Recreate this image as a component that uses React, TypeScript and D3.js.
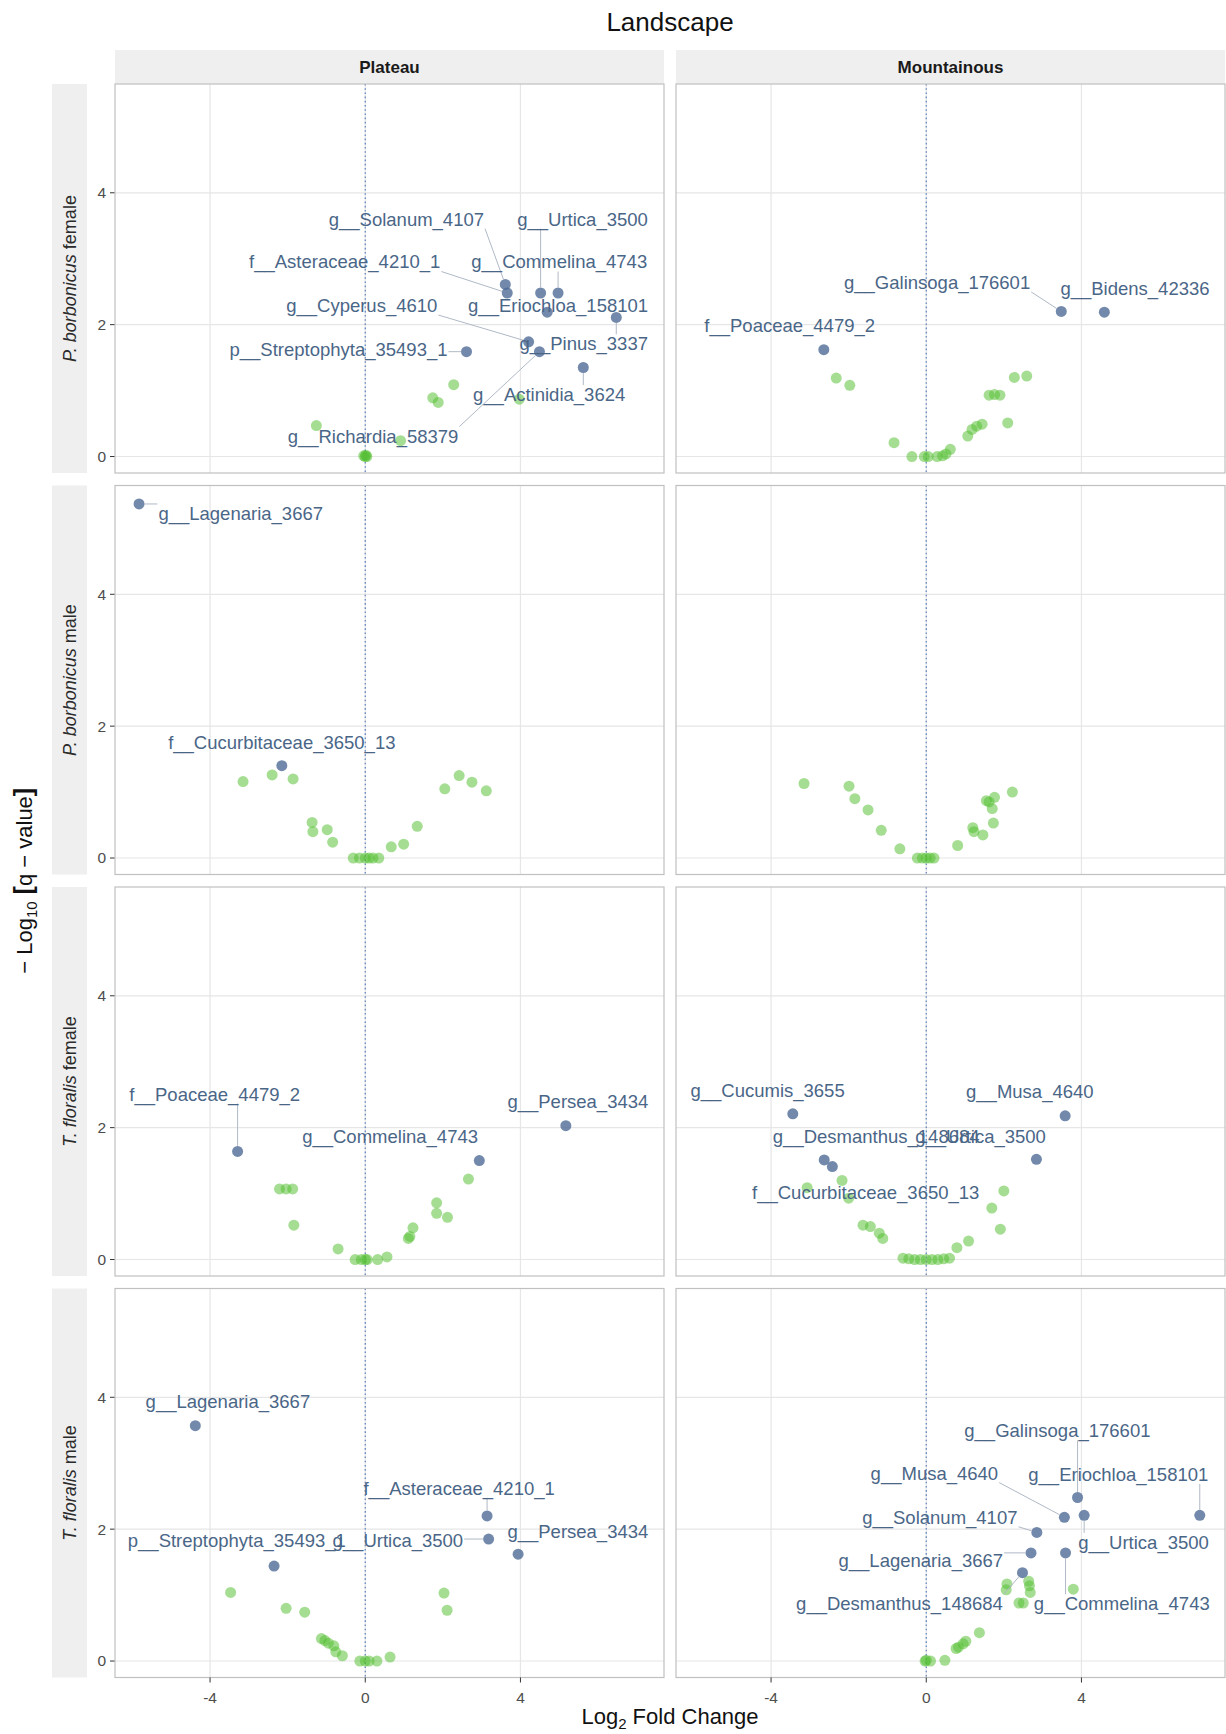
import React, { useMemo } from 'react';
import * as d3 from 'd3';

type Taxon = [string, number, number];
type Dot = [number, number];

const landscapes = ['Plateau', 'Mountainous'];
const hostSpecies = ['P. borbonicus', 'P. borbonicus', 'T. floralis', 'T. floralis'];
const hostSex = ['female', 'male', 'female', 'male'];
const xTicks = [-4, 0, 4];
const yTicks = [0, 2, 4];

// P. borbonicus female / Plateau
const pbFemalePlateauSig: Taxon[] = [
  ['g__Solanum_4107', 3.61, 2.61],
  ['f__Asteraceae_4210_1', 3.66, 2.48],
  ['g__Urtica_3500', 4.52, 2.48],
  ['g__Commelina_4743', 4.97, 2.48],
  ['g__Eriochloa_158101', 4.69, 2.19],
  ['g__Pinus_3337', 6.47, 2.11],
  ['g__Cyperus_4610', 4.21, 1.74],
  ['g__Richardia_58379', 4.49, 1.59],
  ['p__Streptophyta_35493_1', 2.61, 1.59],
  ['g__Actinidia_3624', 5.62, 1.35],
];
const pbFemalePlateauNs: Dot[] = [
  [0, 0], [0.04, 0], [-0.04, 0.01], [0.02, 0.02], [0.91, 0.24], [1.74, 0.89],
  [1.88, 0.82], [2.28, 1.09], [3.97, 0.87], [-1.26, 0.47],
];
// where the repelled labels ended up (data units)
const pbFemalePlateauLab: Taxon[] = [
  ['g__Solanum_4107', 1.06, 3.6],
  ['g__Urtica_3500', 5.6, 3.6],
  ['f__Asteraceae_4210_1', -0.53, 2.95],
  ['g__Commelina_4743', 5.0, 2.95],
  ['g__Cyperus_4610', -0.09, 2.29],
  ['g__Eriochloa_158101', 4.97, 2.29],
  ['p__Streptophyta_35493_1', -0.69, 1.62],
  ['g__Pinus_3337', 5.63, 1.71],
  ['g__Actinidia_3624', 4.74, 0.94],
  ['g__Richardia_58379', 0.2, 0.31],
];

// P. borbonicus female / Mountainous
const pbFemaleMountSig: Taxon[] = [
  ['g__Galinsoga_176601', 3.48, 2.2],
  ['g__Bidens_42336', 4.59, 2.19],
  ['f__Poaceae_4479_2', -2.64, 1.62],
];
const pbFemaleMountNs: Dot[] = [
  [-2.32, 1.19], [-1.97, 1.08], [-0.83, 0.21], [-0.37, 0], [-0.05, 0], [0.05, 0],
  [0.28, 0], [0.42, 0.01], [0.51, 0.04], [0.62, 0.11], [1.07, 0.31], [1.18, 0.41],
  [1.3, 0.46], [1.44, 0.49], [1.62, 0.93], [1.76, 0.94], [1.9, 0.93], [2.1, 0.51],
  [2.27, 1.2], [2.59, 1.22],
];
const pbFemaleMountLab: Taxon[] = [
  ['g__Galinsoga_176601', 0.28, 2.64],
  ['g__Bidens_42336', 5.38, 2.55],
  ['f__Poaceae_4479_2', -3.52, 1.98],
];

// P. borbonicus male / Plateau
const pbMalePlateauSig: Taxon[] = [
  ['g__Lagenaria_3667', -5.83, 5.37],
  ['f__Cucurbitaceae_3650_13', -2.15, 1.4],
];
const pbMalePlateauNs: Dot[] = [
  [-3.15, 1.16], [-2.4, 1.26], [-1.86, 1.2], [-1.37, 0.54], [-1.35, 0.4], [-0.98, 0.43],
  [-0.84, 0.24], [-0.31, 0], [-0.15, 0], [0, 0], [0.1, 0], [0.2, 0], [0.35, 0],
  [0.67, 0.17], [0.99, 0.21], [1.34, 0.48], [2.05, 1.05], [2.42, 1.25], [2.75, 1.15],
  [3.12, 1.02],
];
const pbMalePlateauLab: Taxon[] = [
  ['g__Lagenaria_3667', -3.21, 5.23],
  ['f__Cucurbitaceae_3650_13', -2.15, 1.75],
];

// P. borbonicus male / Mountainous
const pbMaleMountSig: Taxon[] = [];
const pbMaleMountNs: Dot[] = [
  [-3.15, 1.13], [-1.99, 1.09], [-1.84, 0.9], [-1.5, 0.73], [-1.16, 0.42], [-0.68, 0.14],
  [-0.23, 0], [-0.1, 0], [0, 0], [0.1, 0], [0.2, 0], [0.81, 0.19], [1.2, 0.46],
  [1.23, 0.4], [1.46, 0.35], [1.55, 0.87], [1.62, 0.85], [1.76, 0.92], [1.7, 0.75],
  [1.73, 0.53], [2.22, 1.0],
];
const pbMaleMountLab: Taxon[] = [];

// T. floralis female / Plateau
const tfFemalePlateauSig: Taxon[] = [
  ['f__Poaceae_4479_2', -3.29, 1.64],
  ['g__Commelina_4743', 2.94, 1.5],
  ['g__Persea_3434', 5.17, 2.03],
];
const tfFemalePlateauNs: Dot[] = [
  [-2.21, 1.07], [-2.04, 1.07], [-1.87, 1.07], [-1.84, 0.52], [-0.7, 0.16], [-0.26, 0],
  [-0.1, 0], [0, 0], [0.05, 0], [0.32, 0], [0.56, 0.04], [1.11, 0.32], [1.15, 0.35],
  [1.23, 0.48], [1.84, 0.86], [1.84, 0.7], [2.12, 0.64], [2.66, 1.22],
];
const tfFemalePlateauLab: Taxon[] = [
  ['f__Poaceae_4479_2', -3.88, 2.51],
  ['g__Commelina_4743', 0.64, 1.86],
  ['g__Persea_3434', 5.48, 2.39],
];

// T. floralis female / Mountainous
const tfFemaleMountSig: Taxon[] = [
  ['g__Cucumis_3655', -3.44, 2.21],
  ['g__Musa_4640', 3.58, 2.18],
  ['g__Desmanthus_148684', -2.63, 1.51],
  ['f__Cucurbitaceae_3650_13', -2.42, 1.41],
  ['g__Urtica_3500', 2.84, 1.52],
];
const tfFemaleMountNs: Dot[] = [
  [-3.07, 1.09], [-2.17, 1.2], [-2.0, 0.93], [-1.63, 0.52], [-1.44, 0.5], [-1.21, 0.4],
  [-1.12, 0.32], [-0.6, 0.02], [-0.45, 0.01], [-0.3, 0], [-0.15, 0], [0, 0], [0.15, 0],
  [0.3, 0], [0.45, 0.01], [0.6, 0.02], [0.79, 0.18], [1.09, 0.28], [1.69, 0.78],
  [1.91, 0.46], [2.0, 1.04],
];
const tfFemaleMountLab: Taxon[] = [
  ['g__Cucumis_3655', -4.09, 2.56],
  ['g__Musa_4640', 2.67, 2.55],
  ['g__Desmanthus_148684', -1.29, 1.86],
  ['g__Urtica_3500', 1.4, 1.86],
  ['f__Cucurbitaceae_3650_13', -1.56, 1.02],
];

// T. floralis male / Plateau
const tfMalePlateauSig: Taxon[] = [
  ['g__Lagenaria_3667', -4.38, 3.57],
  ['p__Streptophyta_35493_1', -2.35, 1.44],
  ['f__Asteraceae_4210_1', 3.14, 2.2],
  ['g__Urtica_3500', 3.18, 1.85],
  ['g__Persea_3434', 3.94, 1.62],
];
const tfMalePlateauNs: Dot[] = [
  [-3.47, 1.04], [-2.04, 0.8], [-1.56, 0.74], [-1.13, 0.34], [-1.04, 0.31], [-0.95, 0.27],
  [-0.81, 0.23], [-0.76, 0.14], [-0.59, 0.08], [-0.14, 0], [0, 0], [0.1, 0], [0.3, 0],
  [0.64, 0.06], [2.03, 1.03], [2.11, 0.77],
];
const tfMalePlateauLab: Taxon[] = [
  ['g__Lagenaria_3667', -3.54, 3.93],
  ['f__Asteraceae_4210_1', 2.42, 2.62],
  ['p__Streptophyta_35493_1', -3.31, 1.83],
  ['g__Urtica_3500', 0.84, 1.83],
  ['g__Persea_3434', 5.48, 1.96],
];

// T. floralis male / Mountainous
const tfMaleMountSig: Taxon[] = [
  ['g__Galinsoga_176601', 3.9, 2.48],
  ['g__Musa_4640', 3.56, 2.18],
  ['g__Urtica_3500', 4.07, 2.21],
  ['g__Eriochloa_158101', 7.05, 2.21],
  ['g__Solanum_4107', 2.85, 1.95],
  ['g__Lagenaria_3667', 2.7, 1.64],
  ['g__Commelina_4743', 3.59, 1.64],
  ['g__Desmanthus_148684', 2.48, 1.34],
];
const tfMaleMountNs: Dot[] = [
  [2.08, 1.17], [2.06, 1.08], [2.64, 1.21], [2.66, 1.14], [2.68, 1.04], [2.39, 0.88],
  [2.5, 0.88], [3.79, 1.09], [1.37, 0.43], [1.02, 0.3], [0.95, 0.26], [0.83, 0.21],
  [0.77, 0.19], [0.48, 0.01], [0, 0.01], [0.11, 0], [-0.03, 0],
];
const tfMaleMountLab: Taxon[] = [
  ['g__Galinsoga_176601', 3.38, 3.49],
  ['g__Musa_4640', 0.21, 2.85],
  ['g__Eriochloa_158101', 4.95, 2.83],
  ['g__Solanum_4107', 0.35, 2.18],
  ['g__Urtica_3500', 5.6, 1.8],
  ['g__Lagenaria_3667', -0.14, 1.53],
  ['g__Desmanthus_148684', -0.69, 0.87],
  ['g__Commelina_4743', 5.04, 0.87],
];

const panels = [
  [
    { sig: pbFemalePlateauSig, ns: pbFemalePlateauNs, lab: pbFemalePlateauLab },
    { sig: pbFemaleMountSig, ns: pbFemaleMountNs, lab: pbFemaleMountLab },
  ],
  [
    { sig: pbMalePlateauSig, ns: pbMalePlateauNs, lab: pbMalePlateauLab },
    { sig: pbMaleMountSig, ns: pbMaleMountNs, lab: pbMaleMountLab },
  ],
  [
    { sig: tfFemalePlateauSig, ns: tfFemalePlateauNs, lab: tfFemalePlateauLab },
    { sig: tfFemaleMountSig, ns: tfFemaleMountNs, lab: tfFemaleMountLab },
  ],
  [
    { sig: tfMalePlateauSig, ns: tfMalePlateauNs, lab: tfMalePlateauLab },
    { sig: tfMaleMountSig, ns: tfMaleMountNs, lab: tfMaleMountLab },
  ],
];

const FONT = '"Liberation Sans", Arial, Helvetica, sans-serif';
const sigColor = '#4a6893';
const nsColor = '#52bd30';
const labelColor = '#4a6687';

// nearest point of the label box to the dot, like ggrepel does
function connector(cx: number, cy: number, hw: number, hh: number, px: number, py: number, r: number) {
  const nx = Math.max(cx - hw, Math.min(px, cx + hw));
  const ny = Math.max(cy - hh, Math.min(py, cy + hh));
  const dx = px - nx;
  const dy = py - ny;
  const d = Math.hypot(dx, dy);
  if (d - r < 11) return null;
  return [nx, ny, px - (dx / d) * r, py - (dy / d) * r];
}

export default function App() {
  const W = 1226;
  const H = 1734;
  const colLeft = [115, 676];
  const panelW = 549;
  const panelH = 389;
  const rowTop = [0, 1, 2, 3].map((r) => 84 + r * 401.5);
  const labelSize = 18.5;
  const r = 5.5;

  const x = d3.scaleLinear().domain([-6.45, 7.7]).range([0, panelW]);
  const y = d3.scaleLinear().domain([-0.25, 5.65]).range([panelH, 0]);

  const measure = useMemo(() => {
    const ctx = document.createElement('canvas').getContext('2d');
    if (ctx) ctx.font = `${labelSize}px ${FONT}`;
    return (s: string) => (ctx ? ctx.measureText(s).width : s.length * labelSize * 0.55);
  }, []);

  const bottom = rowTop[3] + panelH;
  const plotMid = (colLeft[0] + colLeft[1] + panelW) / 2;

  return (
    <svg width={W} height={H} style={{ position: 'absolute', left: 0, top: 0, background: '#fff' }} fontFamily={FONT}>
      <rect width={W} height={H} fill="#fff" />
      <text x={plotMid} y={31} textAnchor="middle" fontSize={26} fill="#111">Landscape</text>

      {landscapes.map((name, c) => (
        <g key={name}>
          <rect x={colLeft[c]} y={50} width={panelW} height={34} fill="#efefef" />
          <text x={colLeft[c] + panelW / 2} y={67} dy="0.35em" textAnchor="middle" fontSize={17} fontWeight="bold" fill="#1a1a1a">
            {name}
          </text>
        </g>
      ))}

      {panels.map((row, ri) => (
        <g key={ri}>
          <rect x={52} y={rowTop[ri]} width={35} height={panelH} fill="#efefef" />
          <text
            transform={`translate(${69.5},${rowTop[ri] + panelH / 2}) rotate(-90)`}
            dy="0.35em"
            textAnchor="middle"
            fontSize={18}
            fill="#2b2b2b"
          >
            <tspan fontStyle="italic">{hostSpecies[ri]}</tspan>
            <tspan>{'\u00a0' + hostSex[ri]}</tspan>
          </text>
          {yTicks.map((t) => (
            <g key={t}>
              <line x1={colLeft[0] - 5} x2={colLeft[0]} y1={rowTop[ri] + y(t)} y2={rowTop[ri] + y(t)} stroke="#333" strokeWidth={1} />
              <text x={colLeft[0] - 9} y={rowTop[ri] + y(t)} dy="0.35em" textAnchor="end" fontSize={15.5} fill="#4d4d4d">
                {t}
              </text>
            </g>
          ))}

          {row.map((p, ci) => (
            <g key={ci} transform={`translate(${colLeft[ci]},${rowTop[ri]})`}>
              <rect width={panelW} height={panelH} fill="#fff" />
              {yTicks.map((t) => (
                <line key={'gy' + t} x1={0} x2={panelW} y1={y(t)} y2={y(t)} stroke="#e6e6e6" strokeWidth={1.2} />
              ))}
              {xTicks.map((t) => (
                <line key={'gx' + t} x1={x(t)} x2={x(t)} y1={0} y2={panelH} stroke="#e6e6e6" strokeWidth={1.2} />
              ))}
              <line x1={x(0)} x2={x(0)} y1={0} y2={panelH} stroke="#5b80bd" strokeWidth={1.2} strokeDasharray="1.6 2.6" />

              {p.ns.map((d, i) => (
                <circle key={'n' + i} cx={x(d[0])} cy={y(d[1])} r={r} fill={nsColor} fillOpacity={0.52} />
              ))}
              {p.sig.map((d) => (
                <circle key={'s' + d[0]} cx={x(d[1])} cy={y(d[2])} r={r} fill={sigColor} fillOpacity={0.78} />
              ))}

              {p.lab.map((l) => {
                const pt = p.sig.find((s) => s[0] === l[0]);
                const cx = x(l[1]);
                const cy = y(l[2]);
                const hw = measure(l[0]) / 2 + 1;
                const seg = pt ? connector(cx, cy, hw, 9.5, x(pt[1]), y(pt[2]), r) : null;
                return (
                  <g key={'l' + l[0]}>
                    {seg && <line x1={seg[0]} y1={seg[1]} x2={seg[2]} y2={seg[3]} stroke="#b0b9c6" strokeWidth={1} />}
                    <text x={cx} y={cy} dy="0.35em" textAnchor="middle" fontSize={labelSize} fill={labelColor}>
                      {l[0]}
                    </text>
                  </g>
                );
              })}

              <rect width={panelW} height={panelH} fill="none" stroke="#c0c0c0" strokeWidth={1.2} />
            </g>
          ))}
        </g>
      ))}

      {landscapes.map((name, c) => (
        <g key={'xa' + name} transform={`translate(${colLeft[c]},${bottom})`}>
          {xTicks.map((t) => (
            <g key={t}>
              <line x1={x(t)} x2={x(t)} y1={0} y2={5} stroke="#333" strokeWidth={1} />
              <text x={x(t)} y={25} textAnchor="middle" fontSize={15.5} fill="#4d4d4d">
                {String(t)}
              </text>
            </g>
          ))}
        </g>
      ))}

      <text x={plotMid} y={1724} textAnchor="middle" fontSize={22} fill="#111">
        <tspan>Log</tspan>
        <tspan fontSize={15} dy={5}>2</tspan>
        <tspan dy={-5}>{'\u00a0Fold Change'}</tspan>
      </text>

      <text transform={`translate(24,${(rowTop[0] + bottom) / 2}) rotate(-90)`} dy="0.35em" textAnchor="middle" fontSize={22} fill="#111">
        <tspan>{'\u2212\u00a0Log'}</tspan>
        <tspan fontSize={15} dy={5}>10</tspan>
        <tspan dy={-5} fontWeight="bold" fontSize={25}>{'\u00a0['}</tspan>
        <tspan>{'q\u00a0\u2212\u00a0value'}</tspan>
        <tspan fontWeight="bold" fontSize={25}>]</tspan>
      </text>
    </svg>
  );
}
